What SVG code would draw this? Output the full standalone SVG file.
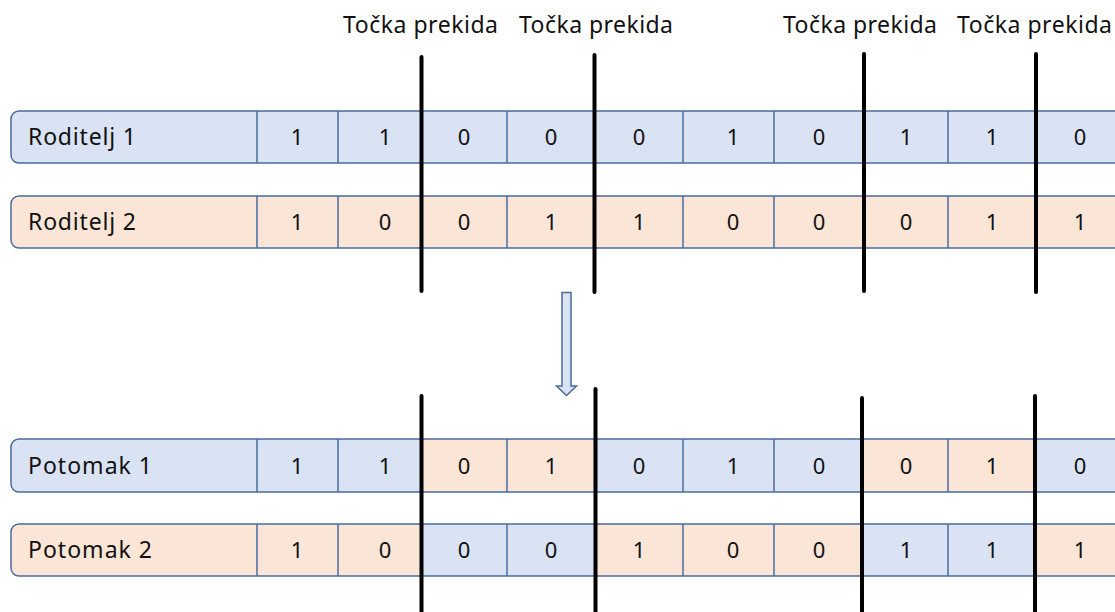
<svg xmlns="http://www.w3.org/2000/svg" width="1115" height="612" viewBox="0 0 1115 612">
<style>
.b{fill:#dae3f3}
.o{fill:#fbe5d6}
.ol{fill:none;stroke:#4a6b9c;stroke-width:1.5}
.dv{stroke:#4a6b9c;stroke-width:1.5}
.t{font-family:"Noto Sans","Open Sans",sans-serif;font-size:23px;fill:#111}
.n{font-family:"Noto Sans","Open Sans",sans-serif;font-size:22px;fill:#111;text-anchor:middle}
.cut{stroke:#000;stroke-width:4;stroke-linecap:round}
</style>
<rect width="1115" height="612" fill="#fff"/>
<g id="labels">
<text class="t" x="343" y="33" textLength="155">Točka prekida</text>
<text class="t" x="519" y="33" textLength="154">Točka prekida</text>
<text class="t" x="783" y="33" textLength="154">Točka prekida</text>
<text class="t" x="957" y="33" textLength="155">Točka prekida</text>
</g>
<g id="roditelj1">
<rect class="b" x="11" y="111" width="1120" height="52" rx="8"/>
<rect class="ol" x="11" y="111" width="1120" height="52" rx="8"/>
<g class="dv"><line x1="257" y1="111" x2="257" y2="163"/><line x1="338" y1="111" x2="338" y2="163"/><line x1="507" y1="111" x2="507" y2="163"/><line x1="683" y1="111" x2="683" y2="163"/><line x1="774" y1="111" x2="774" y2="163"/><line x1="948" y1="111" x2="948" y2="163"/></g>
<text class="t" x="28" y="145" textLength="108">Roditelj 1</text>
<g class="n"><text x="297" y="145">1</text><text x="385" y="145">1</text><text x="464" y="145">0</text><text x="551" y="145">0</text><text x="639" y="145">0</text><text x="733" y="145">1</text><text x="819" y="145">0</text><text x="906" y="145">1</text><text x="992" y="145">1</text><text x="1080" y="145">0</text></g>
</g>
<g id="roditelj2">
<rect class="o" x="11" y="196" width="1120" height="52" rx="8"/>
<rect class="ol" x="11" y="196" width="1120" height="52" rx="8"/>
<g class="dv"><line x1="257" y1="196" x2="257" y2="248"/><line x1="338" y1="196" x2="338" y2="248"/><line x1="507" y1="196" x2="507" y2="248"/><line x1="683" y1="196" x2="683" y2="248"/><line x1="774" y1="196" x2="774" y2="248"/><line x1="948" y1="196" x2="948" y2="248"/></g>
<text class="t" x="28" y="230" textLength="108">Roditelj 2</text>
<g class="n"><text x="297" y="230">1</text><text x="385" y="230">0</text><text x="464" y="230">0</text><text x="551" y="230">1</text><text x="639" y="230">1</text><text x="733" y="230">0</text><text x="819" y="230">0</text><text x="906" y="230">0</text><text x="992" y="230">1</text><text x="1080" y="230">1</text></g>
</g>
<g id="potomak1">
<rect class="b" x="11" y="439" width="1120" height="53" rx="8"/>
<rect class="o" x="421" y="439" width="173" height="53"/>
<rect class="o" x="864" y="439" width="172" height="53"/>
<rect class="ol" x="11" y="439" width="1120" height="53" rx="8"/>
<g class="dv"><line x1="257" y1="439" x2="257" y2="492"/><line x1="338" y1="439" x2="338" y2="492"/><line x1="507" y1="439" x2="507" y2="492"/><line x1="683" y1="439" x2="683" y2="492"/><line x1="774" y1="439" x2="774" y2="492"/><line x1="948" y1="439" x2="948" y2="492"/></g>
<text class="t" x="28" y="474" textLength="124">Potomak 1</text>
<g class="n"><text x="297" y="474">1</text><text x="385" y="474">1</text><text x="464" y="474">0</text><text x="551" y="474">1</text><text x="639" y="474">0</text><text x="733" y="474">1</text><text x="819" y="474">0</text><text x="906" y="474">0</text><text x="992" y="474">1</text><text x="1080" y="474">0</text></g>
</g>
<g id="potomak2">
<rect class="o" x="11" y="524" width="1120" height="52" rx="8"/>
<rect class="b" x="421" y="524" width="173" height="52"/>
<rect class="b" x="864" y="524" width="172" height="52"/>
<rect class="ol" x="11" y="524" width="1120" height="52" rx="8"/>
<g class="dv"><line x1="257" y1="524" x2="257" y2="576"/><line x1="338" y1="524" x2="338" y2="576"/><line x1="507" y1="524" x2="507" y2="576"/><line x1="683" y1="524" x2="683" y2="576"/><line x1="774" y1="524" x2="774" y2="576"/><line x1="948" y1="524" x2="948" y2="576"/></g>
<text class="t" x="28" y="558" textLength="124">Potomak 2</text>
<g class="n"><text x="297" y="558">1</text><text x="385" y="558">0</text><text x="464" y="558">0</text><text x="551" y="558">0</text><text x="639" y="558">1</text><text x="733" y="558">0</text><text x="819" y="558">0</text><text x="906" y="558">1</text><text x="992" y="558">1</text><text x="1080" y="558">1</text></g>
</g>
<g id="connectors">
<line class="cut" x1="421.5" y1="57" x2="421.5" y2="291"/>
<line class="cut" x1="594.5" y1="55" x2="594.5" y2="292"/>
<line class="cut" x1="864" y1="54" x2="864" y2="291"/>
<line class="cut" x1="1036" y1="54" x2="1036" y2="292"/>
<line class="cut" x1="421.5" y1="396" x2="421.5" y2="614"/>
<line class="cut" x1="595.5" y1="389" x2="595.5" y2="614"/>
<line class="cut" x1="862" y1="398" x2="862" y2="614"/>
<line class="cut" x1="1035" y1="396" x2="1035" y2="614"/>
<path d="M562 292.5 H571 V386 H576.5 L566.5 395.5 L556.5 386 H562 Z" fill="#dae3f3" stroke="#4a6b9c" stroke-width="1.5" stroke-linejoin="miter"/>
</g>
</svg>
